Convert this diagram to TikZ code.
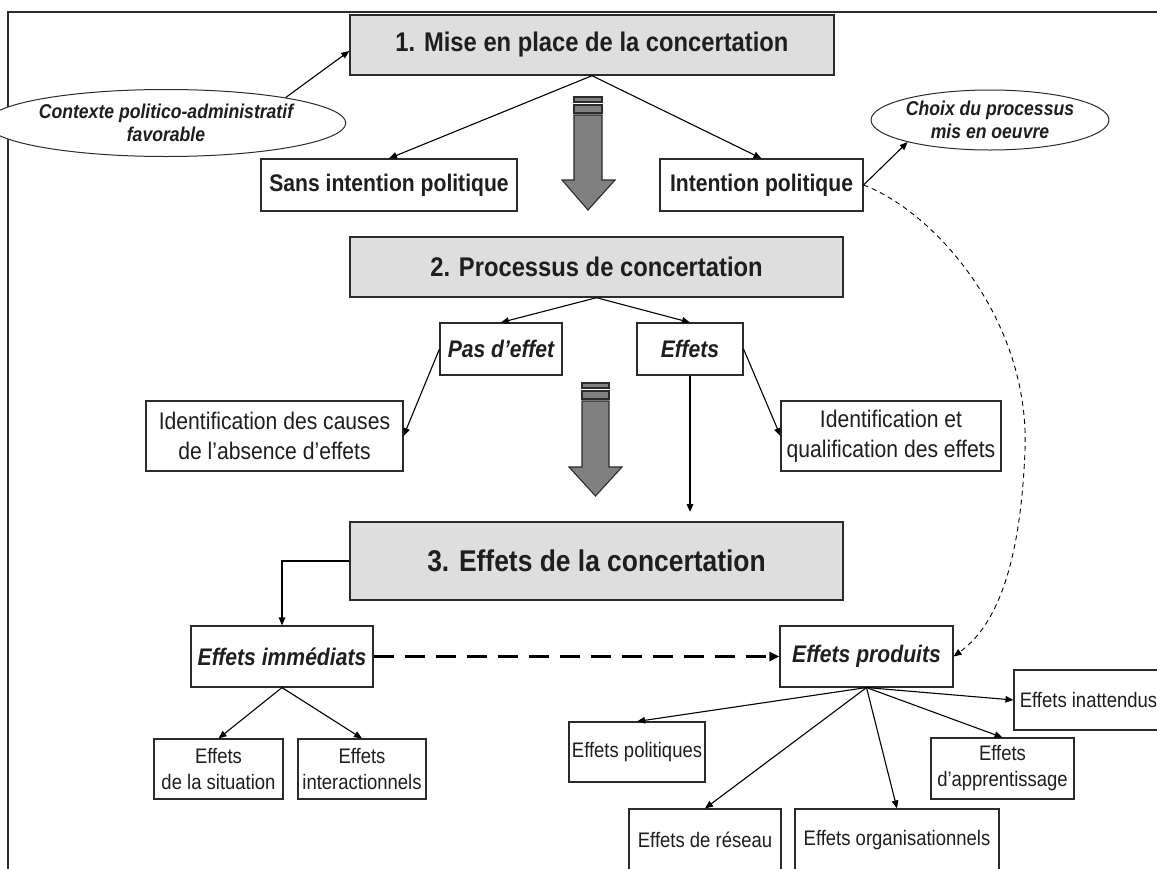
\documentclass[tikz,border=0pt]{standalone}
\usepackage{fontspec}
\setmainfont{Liberation Sans}[FakeStretch=0.88]
\usetikzlibrary{arrows.meta,shapes.geometric,calc}
\definecolor{boxgray}{HTML}{DEDEDE}
\definecolor{linecol}{HTML}{2B2B2B}
\definecolor{txt}{HTML}{1E1E1E}
\definecolor{fatfill}{HTML}{808080}
\begin{document}
\begin{tikzpicture}[x=1pt,y=-1pt,
  every node/.style={text=txt},
  box/.style={draw=linecol, line width=1.1pt, fill=white, inner sep=0pt, align=center},
  title/.style={box, fill=boxgray, line width=1.4pt, font=\fontsize{27}{32}\selectfont\bfseries},
  bi/.style={box, font=\fontsize{24}{28}\selectfont\bfseries\itshape},
  bb/.style={box, font=\fontsize{24}{28}\selectfont\bfseries},
  mid/.style={box, font=\fontsize{24}{30}\selectfont},
  small/.style={box, font=\fontsize{21}{26}\selectfont},
  oval/.style={ellipse, draw=linecol, line width=1pt, fill=white, inner sep=0pt, align=center, font=\fontsize{20}{23}\selectfont\bfseries\itshape},
  arr/.style={-{Triangle[length=8pt,width=6.5pt]}, line width=1.1pt, draw=black},
  fat/.style={fill=fatfill, draw=linecol, line width=1.1pt}]

\useasboundingbox (0,0) rectangle (1157,868);
\clip (0,0) rectangle (1157,868);
\fill[white] (0,0) rectangle (1157,868);
\draw[line width=2pt, linecol] (8,880) -- (8,12) -- (1170,12);

% nodes
\node[title, minimum width=484pt, minimum height=60pt] (box1) at (592,45) {1. Mise en place de la concertation};
\node[oval, minimum width=312pt, minimum height=67pt] (ctx) at (166,123) {Contexte politico-administratif\\favorable};
\node[bb, minimum width=256pt, minimum height=52pt] (sans) at (389,185) {Sans intention politique};
\node[bb, minimum width=203pt, minimum height=52pt] (intent) at (761.5,185) {Intention politique};
\node[oval, minimum width=236pt, minimum height=60pt] (choix) at (990,120) {Choix du processus\\mis en oeuvre};
\node[title, minimum width=493pt, minimum height=60pt] (box2) at (596.5,267) {2. Processus de concertation};
\node[bi, minimum width=122pt, minimum height=52pt] (pas) at (501,349) {Pas d’effet};
\node[bi, minimum width=106pt, minimum height=52pt] (eff) at (690,349) {Effets};
\node[mid, minimum width=257pt, minimum height=70pt] (causes) at (274.5,436) {Identification des causes\\de l’absence d’effets};
\node[mid, minimum width=220pt, minimum height=70pt] (qualif) at (891,436) {Identification et\\qualification des effets};
\node[title, line width=2pt, font=\fontsize{30}{36}\selectfont\bfseries, minimum width=493pt, minimum height=78pt] (box3) at (596.5,561) {3. Effets de la concertation};
\node[bi, minimum width=182pt, minimum height=61pt] (imm) at (282,656.5) {Effets immédiats};
\node[bi, minimum width=173pt, minimum height=61pt] (prod) at (866.5,656.5) {Effets produits};
\node[small, minimum width=129pt, minimum height=60pt] (sit) at (218.5,769) {Effets\\de la situation};
\node[small, minimum width=128pt, minimum height=60pt] (inter) at (362,769) {Effets\\interactionnels};
\node[small, minimum width=149pt, minimum height=60pt] (inatt) at (1088.5,700) {Effets inattendus};
\node[small, minimum width=136pt, minimum height=60pt] (pol) at (637,752) {Effets politiques};
\node[small, minimum width=143pt, minimum height=61pt] (app) at (1002.5,768.5) {Effets\\d’apprentissage};
\node[small, minimum width=152pt, minimum height=62pt] (res) at (705,840) {Effets de réseau};
\node[small, minimum width=204pt, minimum height=62pt] (org) at (897,840) {Effets organisationnels};

% fat arrows
\draw[fat] (574,97) rectangle (602,102);
\draw[fat] (574,105) rectangle (602,113);
\draw[fat] (574,115) -- (602,115) -- (602,180) -- (615,180) -- (588,210) -- (562,180) -- (574,180) -- cycle;
\draw[fat] (582,383) rectangle (609,388);
\draw[fat] (582,391) rectangle (609,399);
\draw[fat] (582,401) -- (609,401) -- (609,467) -- (622,467) -- (595.5,496) -- (569,467) -- (582,467) -- cycle;

% connectors
\coordinate (b1in) at ($(box1.west)+(0,6)$);
\draw[arr] (ctx.12) -- (b1in);
\draw[arr] (box1.south) -- (sans.north);
\draw[arr] (box1.south) -- (intent.north);
\draw[arr] (intent.east) -- (choix.195);
\draw[arr, line width=0.9pt, dash pattern=on 5pt off 4pt] (intent.east) .. controls (935,212) and (1030,320) .. (1025,450) .. controls (1020,580) and (990,630) .. (prod.east);
\draw[arr] (box2.south) -- (pas.north);
\draw[arr] (box2.south) -- (eff.north);
\draw[arr] (pas.west) -- (causes.east);
\draw[arr] (eff.east) -- (qualif.west);
\coordinate (e3) at ($(box3.north -| eff.south)+(0,-9)$);
\draw[arr, line width=2.2pt] (eff.south) -- (e3);
\draw[arr] (box3.west) -| (imm.north);
\draw[arr] (imm.south) -- (sit.north);
\draw[arr] (imm.south) -- (inter.north);
\draw[-{Triangle[length=10pt,width=9pt]}, line width=3.5pt, dash pattern=on 20pt off 11pt] (imm.east) -- (prod.west);
\draw[arr] (prod.south) -- (pol.north);
\draw[arr] (prod.south) -- (res.north);
\draw[arr] (prod.south) -- (org.north);
\draw[arr] (prod.south) -- (app.north);
\draw[arr] (prod.south) -- (inatt.west);
\end{tikzpicture}
\end{document}
